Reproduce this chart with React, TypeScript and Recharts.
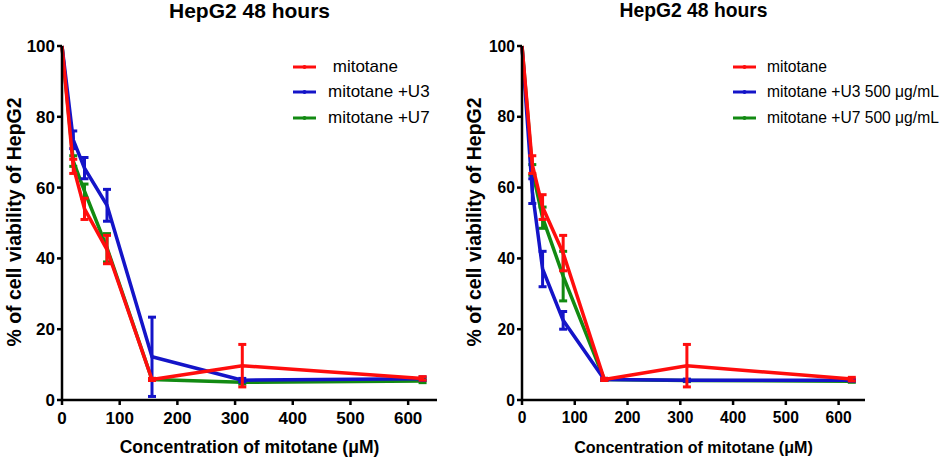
import { LineChart, Line, XAxis, YAxis, ErrorBar, Legend, Label } from "recharts";

// mitotane concentrations (µM)
const concentrations = [0, 19.5, 39, 78, 156, 312.5, 625];
const xTicks = [0, 100, 200, 300, 400, 500, 600];
const yTicks = [0, 20, 40, 60, 80, 100];

// left panel: mean viability and error (%)
const mitotaneLeft = [100, 66, 54, 42.5, 5.8, 9.7, 6.1];
const mitotaneLeftErr = [0, 2, 3, 4, 0.3, 6, 0.5];
const u3Left = [100, 73.5, 65.5, 55, 12.2, 5.6, 6];
const u3LeftErr = [0, 2.5, 3, 4.5, 11.2, 0.5, 0.5];
const u7Left = [100, 67.5, 59, 43, 5.8, 5, 5.4];
const u7LeftErr = [0, 1.5, 2, 4, 0.3, 0.5, 0.5];

// right panel
const mitotaneRight = [100, 66.5, 54.5, 41.5, 5.8, 9.7, 5.9];
const mitotaneRightErr = [0, 2.5, 3.5, 5, 0.3, 6, 0.5];
const u3Right = [100, 59, 37, 22.5, 5.8, 5.6, 5.6];
const u3RightErr = [0, 3.5, 5, 2.5, 0.3, 0.3, 0.3];
const u7Right = [100, 65, 51.5, 35, 5.8, 5.5, 5.3];
const u7RightErr = [0, 1.5, 3, 7, 0.3, 0.3, 0.3];

const namesLeft = [" mitotane", "mitotane +U3", "mitotane +U7"];
const namesRight = ["mitotane", "mitotane +U3 500 \u03bcg/mL", "mitotane +U7 500 \u03bcg/mL"];

const RED = "#ff0d0d";
const BLUE = "#1414c8";
const GREEN = "#128a12";
const FONT = "'Liberation Sans', Arial, Helvetica, sans-serif";
const LEGEND_ORDER = ["mitotane", "u3", "u7"];

const buildRows = (m: number[], mErr: number[], u3: number[], u3Err: number[], u7: number[], u7Err: number[]) =>
  concentrations.map((c, i) => ({
    conc: c,
    mitotane: m[i],
    mitotaneErr: mErr[i],
    u3: u3[i],
    u3Err: u3Err[i],
    u7: u7[i],
    u7Err: u7Err[i],
  }));

const LegendContent = ({ payload, gap, fontSize }: any) => {
  const items = LEGEND_ORDER.map((k) => (payload || []).find((p: any) => p.dataKey === k)).filter(Boolean);
  return (
    <div style={{ fontFamily: FONT, fontSize, color: "#000" }}>
      {items.map((p: any) => (
        <div key={p.dataKey} style={{ display: "flex", alignItems: "center", height: 25.5, whiteSpace: "nowrap" }}>
          <svg width={23} height={10} style={{ flex: "none" }}>
            <line x1={0} y1={5} x2={23} y2={5} stroke={p.color} strokeWidth={3} />
            <circle cx={11.5} cy={5} r={2} fill={p.color} />
          </svg>
          <span style={{ marginLeft: gap, whiteSpace: "pre" }}>{p.value}</span>
        </div>
      ))}
    </div>
  );
};

const Panel = ({ rows, names, left, width, rightMargin, legendLeft, legendGap, scale }: any) => {
  const plotCenter = 62 + (width - 62 - rightMargin) / 2;
  const tickFont = { fill: "#000", fontSize: 17 * scale, fontWeight: "bold", fontFamily: FONT };
  return (
    <div style={{ position: "absolute", left, top: 0, width, height: 459 }}>
      <div
        style={{
          position: "absolute",
          top: 0,
          left: plotCenter,
          transform: "translateX(-50%)",
          whiteSpace: "nowrap",
          fontFamily: FONT,
          fontWeight: "bold",
          fontSize: 21 * scale,
          lineHeight: "21px",
        }}
      >
        HepG2 48 hours
      </div>
      <LineChart width={width} height={459} data={rows} margin={{ top: 46, right: rightMargin, bottom: 0, left: 0 }}>
        <XAxis
          dataKey="conc"
          type="number"
          domain={[0, 650]}
          ticks={xTicks}
          height={59}
          stroke="#000"
          strokeWidth={2.5}
          tickSize={5}
          tickMargin={7}
          tick={tickFont}
        >
          <Label
            content={() => (
              <text
                x={plotCenter}
                y={453}
                textAnchor="middle"
                fontFamily={FONT}
                fontWeight="bold"
                fontSize={17.5 * scale}
                fill="#000"
              >
                Concentration of mitotane ({"\u03bc"}M)
              </text>
            )}
          />
        </XAxis>
        <YAxis
          type="number"
          domain={[0, 100]}
          ticks={yTicks}
          width={62}
          stroke="#000"
          strokeWidth={2.5}
          tickSize={5}
          tickMargin={2}
          tick={tickFont}
        >
          <Label
            content={() => (
              <text
                x={21}
                y={222}
                transform="rotate(-90 21 222)"
                textAnchor="middle"
                fontFamily={FONT}
                fontWeight="bold"
                fontSize={19.5}
                fill="#000"
              >
                % of cell viability of HepG2
              </text>
            )}
          />
        </YAxis>
        <Legend
          layout="vertical"
          align="center"
          verticalAlign="middle"
          wrapperStyle={{ top: 54, left: legendLeft, width: "auto", height: "auto" }}
          content={(props: any) => <LegendContent {...props} gap={legendGap} fontSize={17 * scale} />}
        />
        <Line type="linear" dataKey="u7" name={names[2]} stroke={GREEN} strokeWidth={3.5} dot={false} isAnimationActive={false}>
          <ErrorBar dataKey="u7Err" direction="y" width={4} stroke={GREEN} strokeWidth={3} isAnimationActive={false} />
        </Line>
        <Line type="linear" dataKey="u3" name={names[1]} stroke={BLUE} strokeWidth={3.5} dot={false} isAnimationActive={false}>
          <ErrorBar dataKey="u3Err" direction="y" width={4} stroke={BLUE} strokeWidth={3} isAnimationActive={false} />
        </Line>
        <Line type="linear" dataKey="mitotane" name={names[0]} stroke={RED} strokeWidth={3.5} dot={false} isAnimationActive={false}>
          <ErrorBar dataKey="mitotaneErr" direction="y" width={4} stroke={RED} strokeWidth={3} isAnimationActive={false} />
        </Line>
      </LineChart>
    </div>
  );
};

export default function App() {
  const leftRows = buildRows(mitotaneLeft, mitotaneLeftErr, u3Left, u3LeftErr, u7Left, u7LeftErr);
  const rightRows = buildRows(mitotaneRight, mitotaneRightErr, u3Right, u3RightErr, u7Right, u7RightErr);
  return (
    <div style={{ position: "absolute", left: 0, top: 0, width: 941, height: 459, background: "#fff", overflow: "hidden" }}>
      <Panel rows={leftRows} names={namesLeft} left={0} width={460} rightMargin={23} legendLeft={293} legendGap={12} scale={1} />
      <Panel rows={rightRows} names={namesRight} left={460} width={481} rightMargin={76} legendLeft={273} legendGap={11} scale={0.92} />
    </div>
  );
}
